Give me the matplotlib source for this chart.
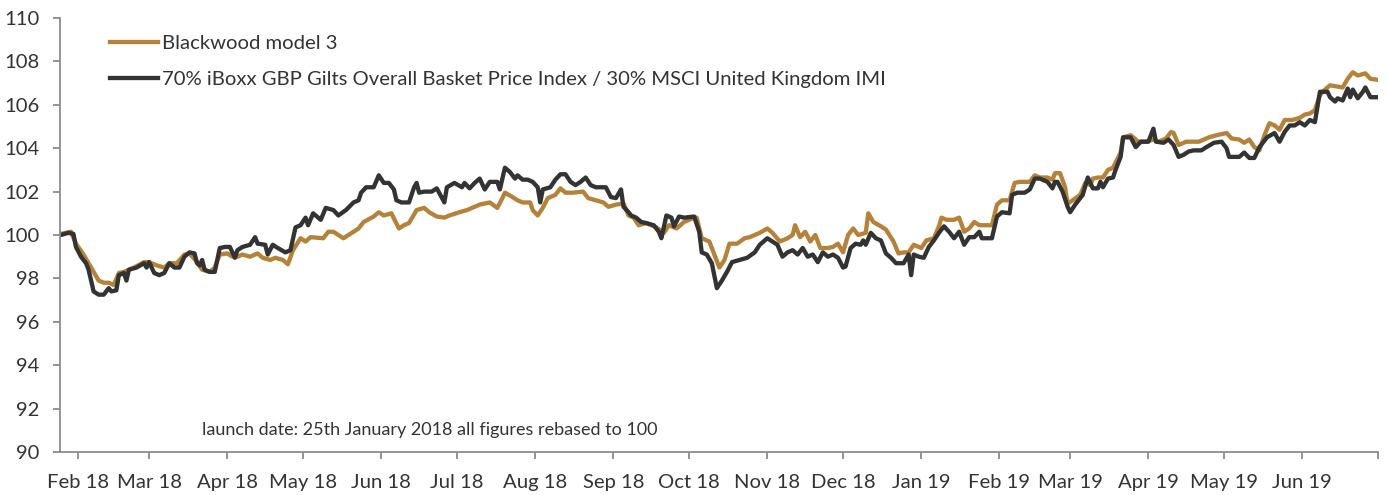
import matplotlib
matplotlib.use("Agg")
from matplotlib import pyplot as plt
import numpy as np
import pandas as pd

plt.rcParams['font.family'] = ['Lato', 'DejaVu Sans']

# Launch date, all series rebased to 100 there
launch = pd.Timestamp("2018-01-25")

# Blackwood model 3 (days since launch, index value)
bw_days = [0, 4, 6, 9, 11, 13, 15, 17, 19, 21, 23, 25, 29, 33, 35, 38, 41, 43, 46, 49,
           51, 54, 56, 59, 61, 63, 66, 68, 70, 72, 75, 78, 80, 83, 85, 88, 90, 92, 95, 97,
           99, 104, 106, 108, 112, 116, 118, 120, 124, 126, 128, 131, 134, 136, 138, 141, 144, 146, 149, 152,
           154, 158, 161, 164, 166, 170, 173, 175, 176, 179, 181, 183, 186, 187, 189, 191, 193, 196, 198, 200,
           203, 207, 209, 212, 215, 217, 220, 223, 225, 227, 229, 232, 236, 239, 241, 244, 247, 251, 252, 254,
           257, 259, 261, 263, 265, 268, 271, 273, 277, 280, 282, 285, 288, 290, 291, 293, 295, 297, 299, 301,
           304, 306, 308, 310, 312, 314, 316, 319, 320, 322, 325, 327, 330, 332, 334, 336, 338, 341, 343, 346,
           348, 349, 351, 354, 356, 358, 360, 362, 364, 369, 371, 373, 376, 378, 380, 384, 386, 388, 391, 393,
           394, 396, 398, 399, 401, 404, 406, 408, 409, 411, 413, 415, 417, 420, 421, 424, 427, 430, 433, 435,
           438, 440, 441, 443, 446, 451, 453, 455, 458, 462, 464, 467, 469, 471, 473, 475, 477, 479, 481, 483,
           485, 488, 491, 493, 495, 497, 499, 501, 503, 508, 510, 512, 514, 517, 519, 522]
bw_vals = [100.05, 100.15, 99.6, 99.1, 98.7, 98.3, 97.9, 97.8, 97.8, 97.7, 98.25, 98.3, 98.5, 98.75, 98.75, 98.6, 98.5, 98.7, 98.7, 99.1,
           99.15, 98.75, 98.4, 98.3, 98.5, 99.1, 99.15, 99.0, 99.0, 99.1, 99.0, 99.15, 98.95, 98.85, 98.95, 98.85, 98.65, 99.3, 99.85, 99.7,
           99.9, 99.85, 100.15, 100.15, 99.85, 100.15, 100.3, 100.6, 100.85, 101.05, 100.9, 101.0, 100.3, 100.45, 100.55, 101.15, 101.25, 101.05, 100.85, 100.8,
           100.9, 101.05, 101.15, 101.3, 101.4, 101.5, 101.25, 101.7, 101.95, 101.75, 101.6, 101.5, 101.5, 101.15, 100.9, 101.25, 101.7, 101.85, 102.15, 101.95,
           101.95, 102.0, 101.7, 101.6, 101.5, 101.3, 101.4, 101.45, 100.9, 100.8, 100.45, 100.55, 100.35, 100.1, 100.45, 100.3, 100.6, 100.8, 100.8, 99.85,
           99.7, 99.1, 98.5, 98.85, 99.6, 99.6, 99.85, 99.9, 100.1, 100.3, 100.1, 99.7, 99.85, 100.0, 100.45, 99.9, 100.15, 99.7, 100.0, 99.4,
           99.4, 99.45, 99.6, 99.2, 100.0, 100.3, 100.0, 100.1, 101.0, 100.6, 100.4, 100.25, 99.7, 99.15, 99.2, 99.2, 99.55, 99.4, 99.75, 99.85,
           100.4, 100.8, 100.7, 100.7, 100.8, 100.15, 100.3, 100.6, 100.45, 100.45, 101.4, 101.6, 101.6, 102.4, 102.45, 102.45, 102.75, 102.65, 102.65, 102.55,
           102.85, 102.85, 102.2, 101.45, 101.6, 101.85, 102.4, 102.3, 102.6, 102.65, 102.65, 103.0, 103.1, 103.8, 104.5, 104.6, 104.3, 104.3, 104.4, 104.3,
           104.45, 104.75, 104.7, 104.15, 104.3, 104.3, 104.4, 104.5, 104.6, 104.7, 104.45, 104.4, 104.25, 104.4, 104.05, 103.9, 104.6, 105.15, 105.05, 104.85,
           105.3, 105.3, 105.4, 105.55, 105.6, 105.75, 106.45, 106.7, 106.9, 106.8, 107.2, 107.5, 107.35, 107.45, 107.2, 107.15]

# 70% iBoxx GBP Gilts / 30% MSCI UK IMI benchmark
bm_days = [0, 3, 5, 6, 8, 10, 11, 12, 13, 15, 17, 19, 20, 22, 23, 25, 26, 27, 30, 33,
           34, 35, 37, 39, 41, 43, 45, 47, 49, 51, 53, 54, 55, 56, 57, 59, 61, 63, 65, 67,
           69, 70, 72, 75, 77, 78, 81, 82, 84, 86, 89, 91, 93, 95, 97, 98, 100, 103, 105, 108,
           110, 113, 116, 118, 119, 121, 124, 126, 128, 130, 132, 133, 135, 138, 140, 141, 142, 144, 147, 149,
           152, 153, 156, 159, 160, 162, 164, 166, 168, 170, 173, 174, 176, 178, 180, 181, 183, 185, 187, 189,
           190, 191, 194, 196, 198, 200, 202, 204, 206, 208, 210, 212, 216, 218, 220, 222, 223, 225, 226, 228,
           230, 232, 235, 237, 238, 240, 242, 243, 245, 247, 251, 253, 254, 256, 258, 260, 262, 264, 266, 269,
           272, 275, 277, 280, 282, 284, 286, 288, 290, 292, 294, 296, 298, 300, 302, 304, 306, 308, 310, 311,
           313, 315, 317, 318, 319, 321, 323, 325, 327, 329, 331, 334, 336, 337, 338, 340, 342, 344, 346, 348,
           350, 352, 354, 356, 358, 360, 362, 364, 365, 367, 369, 371, 373, 376, 377, 379, 382, 384, 386, 388,
           391, 393, 394, 395, 397, 399, 400, 402, 405, 407, 409, 411, 412, 413, 415, 417, 418, 420, 421, 424,
           426, 428, 431, 433, 434, 437, 439, 441, 443, 445, 447, 449, 452, 454, 457, 460, 462, 463, 467, 469,
           471, 473, 475, 478, 481, 483, 485, 487, 489, 491, 493, 495, 497, 498, 499, 502, 503, 505, 506, 508,
           510, 511, 512, 514, 516, 517, 519, 522]
bm_vals = [100.0, 100.1, 100.05, 99.45, 99.0, 98.7, 98.4, 97.9, 97.4, 97.25, 97.25, 97.55, 97.4, 97.45, 98.15, 98.25, 97.9, 98.4, 98.5, 98.7,
           98.5, 98.75, 98.25, 98.15, 98.25, 98.7, 98.5, 98.5, 99.0, 99.2, 99.15, 98.7, 98.6, 98.85, 98.4, 98.3, 98.3, 99.4, 99.45, 99.45,
           98.95, 99.3, 99.45, 99.55, 99.9, 99.6, 99.55, 99.1, 99.55, 99.4, 99.2, 99.3, 100.35, 100.45, 100.8, 100.45, 101.0, 100.7, 101.25, 101.15,
           100.9, 101.15, 101.5, 101.6, 101.95, 102.2, 102.2, 102.75, 102.4, 102.4, 102.1, 101.6, 101.5, 101.5, 102.2, 102.4, 101.95, 102.0, 102.0, 102.15,
           101.5, 102.2, 102.4, 102.2, 102.4, 102.15, 102.4, 102.6, 102.1, 102.45, 102.45, 102.1, 103.1, 102.9, 102.6, 102.75, 102.55, 102.55, 102.45, 102.2,
           101.5, 102.1, 102.2, 102.55, 102.8, 102.8, 102.45, 102.3, 102.45, 102.65, 102.3, 102.2, 102.2, 101.75, 101.7, 102.1, 101.3, 101.05, 100.9, 100.8,
           100.6, 100.55, 100.45, 100.15, 99.85, 100.9, 100.8, 100.4, 100.85, 100.8, 100.85, 100.15, 99.2, 99.1, 98.7, 97.55, 97.9, 98.3, 98.75, 98.85,
           98.95, 99.2, 99.55, 99.85, 99.7, 99.55, 99.0, 99.2, 99.3, 99.1, 99.4, 99.0, 99.1, 98.75, 99.2, 99.0, 99.1, 98.95, 98.5, 98.55,
           99.4, 99.6, 99.55, 99.75, 99.55, 100.1, 99.85, 99.75, 99.15, 98.95, 98.7, 98.7, 99.1, 98.15, 99.1, 99.0, 98.95, 99.45, 99.75, 100.1,
           100.4, 100.15, 99.85, 100.15, 99.55, 99.9, 99.9, 100.15, 99.85, 99.85, 99.85, 100.85, 101.05, 101.0, 101.85, 101.95, 101.95, 102.1, 102.6, 102.6,
           102.45, 102.15, 102.45, 102.45, 102.0, 101.3, 101.05, 101.4, 101.85, 102.65, 102.15, 102.15, 102.45, 102.2, 102.6, 102.65, 103.0, 103.6, 104.5, 104.5,
           104.05, 104.3, 104.3, 104.9, 104.3, 104.25, 104.4, 104.15, 103.6, 103.7, 103.85, 103.9, 103.9, 104.05, 104.25, 104.3, 104.0, 103.6, 103.6, 103.8,
           103.55, 103.55, 104.05, 104.5, 104.7, 104.3, 104.75, 105.05, 105.05, 105.2, 105.05, 105.3, 105.2, 105.9, 106.6, 106.6, 106.35, 106.15, 106.3, 106.2,
           106.75, 106.35, 106.7, 106.3, 106.6, 106.8, 106.35, 106.35]

bw_label = "Blackwood model 3"
bm_label = "70% iBoxx GBP Gilts Overall Basket Price Index / 30% MSCI United Kingdom IMI"
note = "launch date: 25th January 2018 all figures rebased to 100"

gold = "#B5823A"
dark = "#333333"
grey = "#8C8C8C"
txt = "#333333"

bw_dates = launch + pd.to_timedelta(bw_days, unit="D")
bm_dates = launch + pd.to_timedelta(bm_days, unit="D")

fig = plt.figure(figsize=(13.87, 4.95), dpi=100)
ax = fig.add_axes([0.0433, 0.0869, 0.9502, 0.8767])

ax.plot(bw_dates, bw_vals, color=gold, lw=3.1, label=bw_label, solid_joinstyle="round")
ax.plot(bm_dates, bm_vals, color=dark, lw=3.1, label=bm_label, solid_joinstyle="round")

ax.set_ylim(90, 110)
ax.set_yticks(np.arange(90, 111, 2))
ax.set_xlim(launch - pd.Timedelta(days=0.3), pd.Timestamp("2019-07-01"))

months = pd.date_range("2018-02-01", "2019-07-01", freq="MS")
ax.set_xticks(months)
ax.set_xticklabels([m.strftime("%b %y") for m in months[:-1]] + [""])

for s in ["top", "right"]:
    ax.spines[s].set_visible(False)
for s in ["left", "bottom"]:
    ax.spines[s].set_color(grey)
    ax.spines[s].set_linewidth(1.3)

ax.tick_params(axis="both", direction="out", color=grey, width=1.3, labelcolor=txt, labelsize=14.6)
ax.tick_params(axis="x", length=5, pad=10.5)
ax.tick_params(axis="y", length=5, pad=10)

leg = ax.legend(loc="upper left", bbox_to_anchor=(0.038, 0.962), frameon=False,
                fontsize=14.6, handlelength=2.35, handletextpad=0.2, borderpad=0,
                borderaxespad=0, labelspacing=0.95)
for t in leg.get_texts():
    t.set_color(txt)

ax.text(0.108, 0.05, note, transform=ax.transAxes, fontsize=13, color=txt,
        ha="left", va="center")

plt.savefig("out.png", dpi=100)
